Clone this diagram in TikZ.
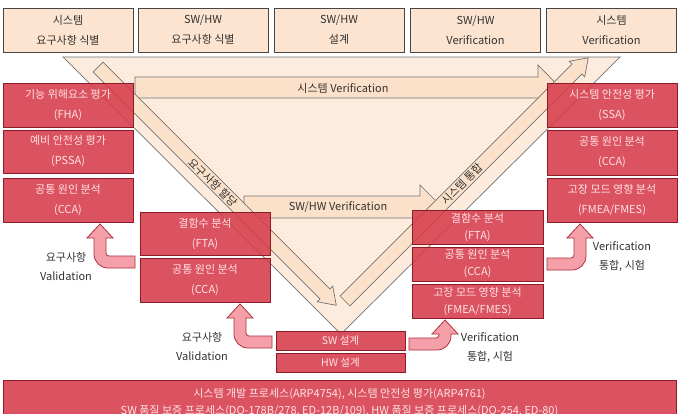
\documentclass[tikz,border=0pt]{standalone}
\usepackage{fontspec}
\setmainfont{Noto Sans CJK KR}
\usetikzlibrary{calc}
\definecolor{peach}{RGB}{252,228,208}
\definecolor{trifillc}{RGB}{253,236,222}
\definecolor{arrfillc}{RGB}{252,225,202}
\definecolor{grayline}{RGB}{115,115,115}
\definecolor{topline}{RGB}{70,70,70}
\definecolor{redfillc}{RGB}{215,60,75}
\definecolor{reddark}{RGB}{140,28,40}
\definecolor{redtext}{RGB}{255,226,228}
\definecolor{pinkfill}{RGB}{245,160,168}
\definecolor{pinkline}{RGB}{176,48,64}
\definecolor{labeltext}{RGB}{50,50,50}
\tikzset{
  basefont/.style={font=\fontsize{11}{20}\selectfont},
  topbox/.style={draw=topline, fill=peach, line width=0.9pt, minimum width=130, minimum height=44,
     inner sep=0pt, align=center, text=labeltext, basefont},
  redbox/.style={draw=reddark, fill=redfillc, fill opacity=0.88, text opacity=1, line width=0.8pt,
     minimum width=130, inner sep=0pt, align=center, text=redtext, basefont},
  redtight/.style={redbox, font=\fontsize{11}{17}\selectfont},
  trishape/.style={draw=grayline, fill=trifillc, line width=0.7pt},
  arrshape/.style={draw=grayline, fill=arrfillc, line width=0.7pt, line join=miter},
  bentstyle/.style={draw=pinkline, fill=pinkfill, line width=0.8pt},
  lbl/.style={text=labeltext, align=center, inner sep=0pt, font=\fontsize{11}{19}\selectfont},
}
\newcommand\bentarrow[5]{%
  \begin{scope}[shift={(#1,#2)}, xscale=#5, yscale=-1]
    \filldraw[bentstyle] (#3,6) -- (9,6) arc[start angle=270,end angle=180,radius=3]
      -- (6,#4-14) -- (13,#4-14) -- (0,#4) -- (-13,#4-14) -- (-6,#4-14)
      -- (-6,8) arc[start angle=180,end angle=270,radius=14] -- (#3,-6) -- cycle;
  \end{scope}}
\begin{document}
\begin{tikzpicture}[x=1pt,y=1pt,yscale=-1]
\useasboundingbox (0,0) rectangle (679,413);
\clip (0,0) rectangle (679,413);
\fill[white] (0,0) rectangle (679,413);
% big V triangle
\coordinate (tl) at (63,57);
\coordinate (tr) at (620,57);
\coordinate (ap) at (341,334);
\draw[trishape] (tl) -- (tr) -- (ap) -- cycle;
% horizontal arrows
\draw[arrshape] (135,77) -- (538,77) -- (538,65) -- (560,87.5) -- (538,110) -- (538,98) -- (135,98) -- cycle;
\node[lbl] (sysver) at (343,88.5) {시스템 Verification};
\draw[arrshape] (244,196) -- (420,196) -- (420,185) -- (442,207) -- (420,229) -- (420,218) -- (244,218) -- cycle;
\node[lbl] (swver) at (338,207.5) {SW/HW Verification};
% diagonal bands
\begin{scope}[shift={(98,67)}, rotate=45]
  \draw[arrshape] (0,-7) -- (321,-7) -- (321,-11) -- (337,0) -- (321,11) -- (321,7) -- (0,7) -- cycle;
\end{scope}
\begin{scope}[shift={(345,301)}, rotate=-45]
  \draw[arrshape] (0,-7) -- (328,-7) -- (328,-11) -- (344,0) -- (328,11) -- (328,7) -- (0,7) -- cycle;
\end{scope}
\node[lbl, rotate=-45] (alloc) at (213,182.5) {요구사항 할당};
\node[lbl, rotate=45] (integ) at (462,184) {시스템 통합};
% top boxes
\node[topbox] (t1) at (68,30) {시스템\\요구사항 식별};
\node[topbox] (t2) at (203,30) {SW/HW\\요구사항 식별};
\node[topbox] (t3) at (339,30) {SW/HW\\설계};
\node[topbox] (t4) at (475.5,30) {SW/HW\\Verification};
\node[topbox] (t5) at (611.5,30) {시스템\\Verification};
% left column
\node[redbox, minimum height=44] (fha) at (68,105) {기능 위해요소 평가\\(FHA)};
\node[redbox, minimum height=43] (pssa) at (68,151.5) {예비 안전성 평가\\(PSSA)};
\node[redbox, minimum height=44] (cca1) at (68,200) {공통 원인 분석\\(CCA)};
% right column
\node[redbox, minimum height=44] (ssa) at (612,105) {시스템 안전성 평가\\(SSA)};
\node[redbox, minimum height=45] (cca4) at (612,152.5) {공통 원인 분석\\(CCA)};
\node[redbox, minimum height=44] (fmea4) at (612,200) {고장 모드 영향 분석\\(FMEA/FMES)};
% middle-left column
\node[redbox, minimum height=43] (fta2) at (205,233.5) {결함수 분석\\(FTA)};
\node[redbox, minimum height=44] (cca2) at (205,280) {공통 원인 분석\\(CCA)};
% middle-right column
\node[redtight, minimum width=131, minimum height=34] (fta3) at (477.5,227) {결함수 분석\\(FTA)};
\node[redtight, minimum width=131, minimum height=34] (cca3) at (477.5,264) {공통 원인 분석\\(CCA)};
\node[redtight, minimum width=131, minimum height=34] (fmea3) at (477.5,301) {고장 모드 영향 분석\\(FMEA/FMES)};
% bottom centre
\node[redbox, minimum width=129, minimum height=19, font=\fontsize{10.5}{12}\selectfont] (sw) at (340.5,340.5) {SW 설계};
\node[redbox, minimum width=129, minimum height=19, font=\fontsize{10.5}{12}\selectfont] (hw) at (340.5,362.5) {HW 설계};
% bent arrows
\bentarrow{100}{262}{35}{38}{1}
\bentarrow{240}{342}{32}{38}{1}
\bentarrow{445}{344}{36}{24}{-1}
\bentarrow{580}{264}{33}{40}{-1}
\node[lbl] (v1) at (66,266.5) {요구사항\\Validation};
\node[lbl] (v2) at (202,346.5) {요구사항\\Validation};
\node[lbl] (v3) at (490,347.5) {Verification\\통합, 시험};
\node[lbl] (v4) at (622,257) {Verification\\통합, 시험};
% bottom process box
\node[redbox, minimum width=673, minimum height=45, font=\fontsize{11}{17}\selectfont] (proc) at (339.5,402.5)
  {시스템 개발 프로세스(ARP4754), 시스템 안전성 평가(ARP4761)\\SW 품질 보증 프로세스(DO-178B/278, ED-12B/109), HW 품질 보증 프로세스(DO-254, ED-80)};
\end{tikzpicture}
\end{document}
